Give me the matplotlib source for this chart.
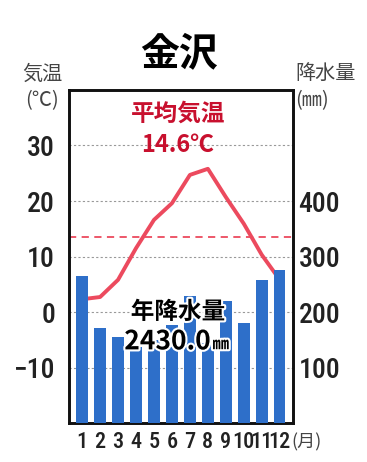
import matplotlib
matplotlib.use('Agg')
import matplotlib.pyplot as plt
import matplotlib.patheffects as pe

months = [1, 2, 3, 4, 5, 6, 7, 8, 9, 10, 11, 12]
month_labels = ['1', '2', '3', '4', '5', '6', '7', '8', '9', '10', '11', '12']
temp = [2.3, 2.7, 5.8, 11.5, 16.6, 19.6, 24.7, 25.8, 20.7, 15.9, 10.3, 5.8]
precip = [264, 172, 155, 137, 150, 177, 228, 144, 220, 181, 258, 276]
temp_ticks = [-10, 0, 10, 20, 30]
temp_labels = ['\u221210', '0', '10', '20', '30']
precip_ticks = [100, 200, 300, 400]

plt.rcParams['font.family'] = ['Noto Sans CJK JP', 'DejaVu Sans']
num_font = ['Roboto Condensed', 'Noto Sans CJK JP']
red = '#c8102e'
line_red = '#ec4a5e'
blue = '#2e6fc9'

fig = plt.figure(figsize=(3.67, 4.62), dpi=100)
ax = fig.add_axes([0.188, 0.0844, 0.610, 0.7208])
ax2 = ax.twinx()

# 気温（左軸）: 折れ線は棒の後ろ
ax.plot(months, temp, color=line_red, lw=2.8, zorder=2)
mean_t = sum(temp) / len(temp)
ax.axhline(mean_t, color=line_red, lw=1.3, ls=(0, (4, 3)), zorder=1)
for t in temp_ticks:
    ax.axhline(t, color='#999999', lw=0.8, ls=(0, (2, 2)), zorder=0)
ax.set_ylim(-20, 40)
ax.set_xlim(0.27, 12.73)
ax.set_yticks(temp_ticks)
ax.set_yticklabels(temp_labels, fontfamily=num_font, fontweight='medium')
ax.set_xticks(months)
ax.set_xticklabels(month_labels, fontfamily=num_font, fontweight='medium')
ax.tick_params(axis='y', length=0, pad=10, labelsize=20, colors='#222222')
ax.tick_params(axis='x', length=0, pad=6, labelsize=16, colors='#222222')

# 降水量（右軸）
ax2.bar(months, precip, width=0.64, color=blue, zorder=3)
ax2.set_ylim(0, 600)
ax2.set_yticks(precip_ticks)
ax2.set_yticklabels([str(p) for p in precip_ticks], fontfamily=num_font, fontweight='medium')
ax2.tick_params(axis='y', length=0, pad=4, labelsize=20, colors='#222222')

for a in (ax, ax2):
    for s in a.spines.values():
        s.set_linewidth(1.9)
        s.set_color('#111111')

# テキスト
fig.text(0.487, 0.883, '金沢', ha='center', va='center', fontsize=28, fontweight='bold')
fig.text(0.115, 0.840, '気温', ha='center', va='center', fontsize=14.5, color='#444444')
fig.text(0.115, 0.783, '(℃)', ha='center', va='center', fontsize=14.5, color='#444444')
fig.text(0.804, 0.840, '降水量', ha='left', va='center', fontsize=14.5, color='#444444')
fig.text(0.804, 0.783, '(㎜)', ha='left', va='center', fontsize=14.5, color='#444444')
fig.text(0.835, 0.043, '(月)', ha='center', va='center', fontsize=13, color='#444444')

fig.text(0.485, 0.753, '平均気温', ha='center', va='center', fontsize=17, fontweight='bold', color=red)
fig.text(0.485, 0.686, '14.6℃', ha='center', va='center', fontsize=17, fontweight='bold', color=red)

stroke = [pe.withStroke(linewidth=3, foreground='white')]
t1 = fig.text(0.485, 0.325, '年降水量', ha='center', va='center', fontsize=17, fontweight='bold', color='black', zorder=10)
t2 = fig.text(0.574, 0.260, '2430.0', ha='right', va='center', fontsize=19, fontweight='bold', color='black', zorder=10)
t3 = fig.text(0.579, 0.255, '㎜', ha='left', va='center', fontsize=12, fontweight='bold', color='black', zorder=10)
for t in (t1, t2, t3):
    t.set_path_effects(stroke)

fig.savefig('out.png', dpi=100)
